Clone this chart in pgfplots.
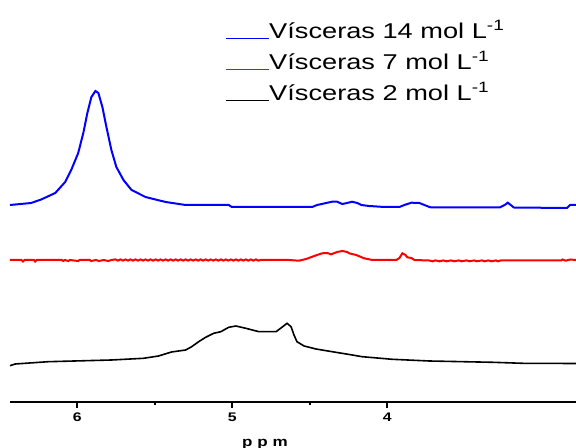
\documentclass[border=0pt]{standalone}
\usepackage{fontspec}
\setmainfont[FakeStretch=1.27]{Liberation Sans}
\usepackage{pgfplots}
\pgfplotsset{compat=1.18}
\definecolor{nmrblue}{RGB}{0,0,255}
\definecolor{nmrred}{RGB}{255,0,0}
\begin{document}
\begin{tikzpicture}
\useasboundingbox (0,0) rectangle (576bp,448bp);
\begin{axis}[
  at={(10bp,46bp)}, anchor=south west,
  scale only axis, width=566bp, height=402bp,
  x dir=reverse,
  xmin=2.783, xmax=6.434,
  ymin=0, ymax=402,
  axis x line*=bottom, axis y line=none,
  x axis line style={line width=2bp},
  xtick={4,5,6}, minor x tick num=1,
  tick align=outside,
  major tick length=6bp, minor tick length=3bp,
  every tick/.style={line width=2bp, black},
  /pgf/number format/assume math mode=true,
  xticklabel style={font=\fontsize{12.5}{14}\selectfont\bfseries, yshift=-1.5bp},
  xlabel={p\hspace{0.35em}p\hspace{0.35em}m},
  xlabel style={at={(axis description cs:0.4505,0)}, anchor=base, yshift=-44bp, font=\fontsize{13.5}{15}\selectfont\bfseries},
  legend style={draw=none, fill=none, at={(0.3799,0.9453)}, anchor=north west,
    inner sep=0pt, row sep=10bp, column sep=0pt,
    font=\fontsize{21.5}{25}\selectfont,
    nodes={inner sep=0pt, text height=16bp, text depth=5bp}},
  legend cell align=left,
  legend image code/.code={\draw[#1, line width=1bp] (0bp,-5.5bp) -- (43bp,-5.5bp);},
  clip=false,
]
% blue: Visceras 14 mol/L
\addplot[nmrblue, line width=2bp] coordinates {
(6.434,197) (6.298,199) (6.233,202.5) (6.142,209) (6.078,220) (6.039,232)
(5.994,249) (5.961,269) (5.935,289) (5.909,305) (5.883,311) (5.864,309)
(5.838,295) (5.812,275) (5.780,252) (5.748,235) (5.702,222) (5.650,212)
(5.560,205) (5.430,200) (5.301,197) (5.023,197) (5.003,195) (4.485,195)
(4.453,197) (4.356,200.3) (4.324,200.3) (4.291,198) (4.259,199) (4.227,200.3)
(4.194,199) (4.168,197) (4.117,196) (4.019,195) (3.922,195) (3.890,197)
(3.845,199.3) (3.793,199) (3.761,197) (3.728,195) (3.715,194.5) (3.275,194.5)
(3.243,197) (3.223,199.3) (3.204,197) (3.184,194.5) (2.841,194) (2.822,197) (2.783,197)
};
\addlegendentry{Vísceras 14 mol L\textsuperscript{-1}}
% red: Visceras 7 mol/L
\addplot[nmrred, line width=2bp] coordinates {
(6.434,142) (6.360,142) (6.350,140.5) (6.340,142) (6.280,142) (6.272,140.5) (6.262,142)
(6.100,142) (6.091,141) (6.080,142) (6.058,141) (6.048,142) (5.994,141) (5.985,142)
(5.920,142) (5.910,141) (5.880,142) (5.860,141) (5.830,142) (5.800,141) (5.780,142)
(5.754,142.6) (5.738,141.4) (5.722,142.6) (5.705,141.4) (5.689,142.6) (5.673,141.4)
(5.657,142.6) (5.641,141.4) (5.625,142.6) (5.608,141.4) (5.592,142.6) (5.576,141.4)
(5.560,142.6) (5.544,141.4) (5.528,142.6) (5.511,141.4) (5.495,142.6) (5.479,141.4)
(5.463,142.6) (5.447,141.4) (5.430,142.6) (5.414,141.4) (5.398,142.6) (5.382,141.4)
(5.366,142.6) (5.350,141.4) (5.333,142.6) (5.317,141.4) (5.301,142.6) (5.285,141.4)
(5.269,142.6) (5.252,141.4) (5.236,142.6) (5.220,141.4) (5.204,142.6) (5.188,141.4)
(5.172,142.6) (5.155,141.4) (5.139,142.6) (5.123,141.4) (5.107,142.6) (5.090,141.4)
(5.074,142.6) (5.058,141.4) (5.042,142.6) (5.026,141.4) (5.010,142.6) (4.993,141.4)
(4.977,142.6) (4.961,141.4) (4.945,142.6) (4.929,141.4) (4.913,142.6) (4.896,141.4)
(4.880,142.6) (4.864,141.4) (4.848,142.6) (4.832,141.4) (4.816,142)
(4.634,142) (4.570,141.3) (4.524,143) (4.472,146) (4.421,148.7) (4.388,149)
(4.362,147.7) (4.324,150) (4.291,151) (4.259,150) (4.246,148.7) (4.201,147)
(4.149,143.7) (4.097,142) (3.942,142) (3.922,144) (3.903,148.7) (3.883,147)
(3.871,144.7) (3.845,144) (3.825,142) (3.730,141.5)
(3.709,140.7) (3.690,141.6) (3.663,140.7) (3.640,141.6) (3.618,140.7) (3.590,141.6)
(3.566,140.7) (3.540,141.6) (3.521,140.7) (3.490,141.6) (3.469,140.7) (3.440,141.6)
(3.424,140.7) (3.390,141.6) (3.372,140.7) (3.350,141.6) (3.327,140.7) (3.300,141.6) (3.288,140.7)
(3.270,141.5) (2.880,141.5) (2.870,142.5) (2.850,141.3) (2.820,142.5) (2.783,142)
};
\addlegendentry{Vísceras 7 mol L\textsuperscript{-1}}
% black: Visceras 2 mol/L
\addplot[black, line width=1.6bp] coordinates {
(6.434,36.3) (6.401,38) (6.188,40.3) (5.780,42) (5.573,43.7) (5.476,46)
(5.392,50) (5.301,52) (5.262,55.3) (5.217,60.3) (5.172,64.7) (5.120,68.7)
(5.074,70.3) (5.023,74.7) (4.977,76) (4.913,73.7) (4.828,70.3) (4.718,70.3)
(4.680,74.7) (4.647,78.7) (4.621,75.3) (4.602,67) (4.583,60.3) (4.537,56)
(4.460,53) (4.356,50.3) (4.265,48) (4.162,45.3) (3.968,42.7) (3.728,41)
(3.320,39.7) (3.126,38.7) (2.783,38.5)
};
\addlegendentry{Vísceras 2 mol L\textsuperscript{-1}}
\end{axis}
\end{tikzpicture}
\end{document}
